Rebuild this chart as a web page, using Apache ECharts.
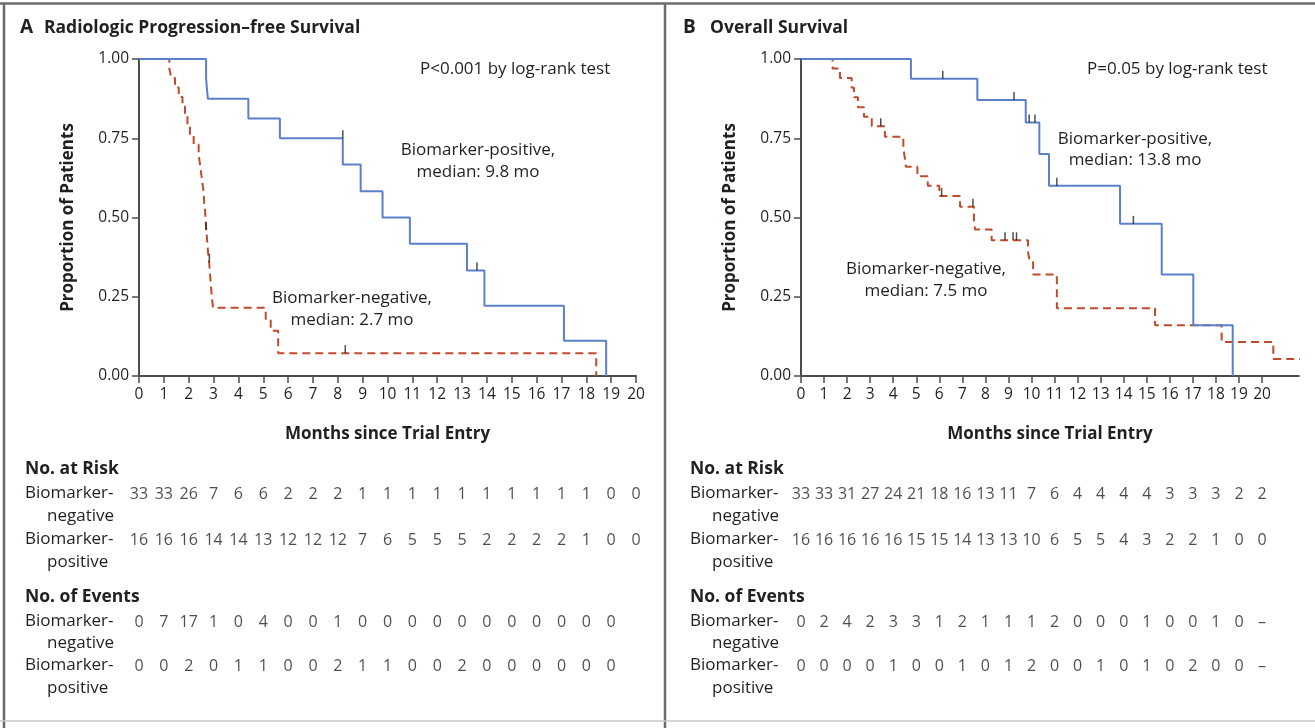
<!DOCTYPE html>
<html>
<head>
<meta charset="utf-8">
<script src="https://cdn.jsdelivr.net/npm/echarts@6/dist/echarts.min.js"></script>
<style>
html, body { margin: 0; padding: 0; background: #fff; }
#chart { width: 1315px; height: 728px; }
</style>
</head>
<body>
<div id="chart"></div>
<script>
// ---- panel A: radiologic progression-free survival, [month, proportion] ----
var pfsPos = [[0, 1], [2.7, 0.9375], [2.77, 0.875], [4.4, 0.8125], [5.67, 0.75], [8.2, 0.667], [8.92, 0.583],
  [9.8, 0.5], [10.9, 0.417], [13.2, 0.333], [13.9, 0.222], [17.1, 0.111], [18.8, 0]]
var pfsNeg = [[0, 1], [1.22, 0.97], [1.3, 0.94], [1.45, 0.91], [1.6, 0.88], [1.75, 0.85], [1.85, 0.82], [1.95, 0.79],
  [2.05, 0.76], [2.2, 0.73], [2.4, 0.7], [2.45, 0.67], [2.5, 0.64], [2.55, 0.61], [2.6, 0.58], [2.62, 0.55],
  [2.66, 0.52], [2.68, 0.49], [2.72, 0.45], [2.75, 0.42], [2.78, 0.39], [2.82, 0.36], [2.86, 0.32], [2.9, 0.28],
  [2.93, 0.25], [2.98, 0.215], [5.1, 0.18], [5.3, 0.143], [5.6, 0.072], [18.4, 0]]
var pfsPosCensor = [[8.2, 0.75], [13.6, 0.333]]
var pfsNegCensor = [[2.7, 0.46], [2.83, 0.36], [8.3, 0.072]]

// ---- panel B: overall survival ----
var osPos = [[0, 1], [4.77, 0.9375], [7.65, 0.871], [9.75, 0.8], [10.34, 0.7], [10.76, 0.6], [13.84, 0.48],
  [15.65, 0.32], [17.02, 0.16], [18.73, 0]]
var osNeg = [[0, 1], [1.37, 0.97], [1.69, 0.94], [2.2, 0.909], [2.3, 0.879], [2.47, 0.848], [2.73, 0.818],
  [3.07, 0.788], [3.64, 0.755], [4.44, 0.72], [4.5, 0.69], [4.55, 0.66], [5.05, 0.63], [5.5, 0.6], [6.0, 0.568],
  [6.9, 0.534], [7.5, 0.497], [7.55, 0.462], [8.27, 0.428], [9.85, 0.39], [9.93, 0.36], [10.07, 0.32],
  [11.1, 0.214], [15.36, 0.16], [18.25, 0.107], [20.49, 0.054], [21.82, 0.005]]
var osPosCensor = [[6.15, 0.9375], [9.24, 0.871], [9.9, 0.8], [10.15, 0.8], [11.1, 0.6], [14.42, 0.48]]
var osNegCensor = [[3.46, 0.788], [6.1, 0.568], [7.46, 0.534], [8.85, 0.428], [9.2, 0.428], [9.35, 0.428]]

// ---- tables (value per month, starting at 0) ----
var riskA = {
  neg: [33, 33, 26, 7, 6, 6, 2, 2, 2, 1, 1, 1, 1, 1, 1, 1, 1, 1, 1, 0, 0],
  pos: [16, 16, 16, 14, 14, 13, 12, 12, 12, 7, 6, 5, 5, 5, 2, 2, 2, 2, 1, 0, 0]
}
var eventsA = {
  neg: [0, 7, 17, 1, 0, 4, 0, 0, 1, 0, 0, 0, 0, 0, 0, 0, 0, 0, 0, 0],
  pos: [0, 0, 2, 0, 1, 1, 0, 0, 2, 1, 1, 0, 0, 2, 0, 0, 0, 0, 0, 0]
}
var riskB = {
  neg: [33, 33, 31, 27, 24, 21, 18, 16, 13, 11, 7, 6, 4, 4, 4, 4, 3, 3, 3, 2, 2],
  pos: [16, 16, 16, 16, 16, 15, 15, 14, 13, 13, 10, 6, 5, 5, 4, 3, 2, 2, 1, 0, 0]
}
var eventsB = {
  neg: [0, 2, 4, 2, 3, 3, 1, 2, 1, 1, 1, 2, 0, 0, 0, 1, 0, 0, 1, 0, '–'],
  pos: [0, 0, 0, 0, 1, 0, 0, 1, 0, 1, 2, 0, 0, 1, 0, 1, 0, 2, 0, 0, '–']
}
var monthTicks = [0, 1, 2, 3, 4, 5, 6, 7, 8, 9, 10, 11, 12, 13, 14, 15, 16, 17, 18, 19, 20]

var FONT = 'Open Sans'
var TXT = '#231f20'
var AXIS = '#4d4d4d'
var BLUE = '#5a80cc'
var RED = '#c24a2c'

var chart = echarts.init(document.getElementById('chart'))

var grids = []
var xAxes = []
var yAxes = []
var series = []

// survival plot for one panel
function addPlot(left, max, pxPerMonth, pos, neg, posC, negC) {
  var gi = grids.length
  grids.push({ left: left, top: 59, width: max * pxPerMonth, height: 317 })
  xAxes.push({
    gridIndex: gi, type: 'value', min: 0, max: max,
    name: 'Months since Trial Entry', nameLocation: 'middle', nameGap: 50,
    nameTextStyle: { fontFamily: FONT, fontSize: 17, fontWeight: 'bold', color: TXT },
    axisLine: { lineStyle: { color: AXIS, width: 2 } },
    axisTick: { customValues: monthTicks, length: 7, lineStyle: { color: AXIS, width: 1.5 } },
    axisLabel: { customValues: monthTicks, margin: 11, fontFamily: FONT, fontSize: 15.5, color: TXT },
    splitLine: { show: false }
  })
  yAxes.push({
    gridIndex: gi, type: 'value', min: 0, max: 1, interval: 0.25,
    name: 'Proportion of Patients', nameLocation: 'middle', nameGap: 62,
    nameTextStyle: { fontFamily: FONT, fontSize: 17, fontWeight: 'bold', color: TXT },
    axisLine: { show: true, lineStyle: { color: AXIS, width: 2 } },
    axisTick: { show: true, length: 7, lineStyle: { color: AXIS, width: 1.5 } },
    axisLabel: { margin: 10, fontFamily: FONT, fontSize: 15.5, color: TXT, formatter: function (v) { return v.toFixed(2) } },
    splitLine: { show: false }
  })
  series.push({
    type: 'line', xAxisIndex: gi, yAxisIndex: gi, step: 'end', data: neg, showSymbol: false, clip: false,
    lineStyle: { color: RED, width: 2, type: [8, 5] }, z: 3
  })
  series.push({
    type: 'line', xAxisIndex: gi, yAxisIndex: gi, step: 'end', data: pos, showSymbol: false,
    lineStyle: { color: BLUE, width: 2 }, z: 4
  })
  series.push({
    type: 'scatter', xAxisIndex: gi, yAxisIndex: gi, data: posC.concat(negC),
    symbol: 'rect', symbolSize: [1.5, 8], symbolOffset: [0, -4],
    itemStyle: { color: '#222' }, z: 5
  })
}

// one table row of numbers, placed on the month scale
function addRow(left, width, max, top, values) {
  var gi = grids.length
  grids.push({ left: left, top: top - 10, width: width, height: 20 })
  xAxes.push({ gridIndex: gi, type: 'value', min: 0, max: max, show: false })
  yAxes.push({ gridIndex: gi, type: 'value', min: -1, max: 1, show: false })
  series.push({
    type: 'scatter', xAxisIndex: gi, yAxisIndex: gi, symbolSize: 1,
    itemStyle: { color: 'rgba(0,0,0,0)' },
    data: values.map(function (v, i) { return [i, 0, v] }),
    label: {
      show: true, position: 'inside', fontFamily: FONT, fontSize: 16, color: TXT,
      formatter: function (p) { return String(p.value[2]) }
    }
  })
}

addPlot(139, 20, 24.85, pfsPos, pfsNeg, pfsPosCensor, pfsNegCensor)
addPlot(801, 21.6, 23.05, osPos, osNeg, osPosCensor, osNegCensor)

var rowTops = [494, 540, 622, 666]
var tA = [riskA.neg, riskA.pos, eventsA.neg, eventsA.pos]
var tB = [riskB.neg, riskB.pos, eventsB.neg, eventsB.pos]
for (var r = 0; r < 4; r++) {
  addRow(139, 497, 20, rowTops[r], tA[r])
  addRow(801, 461, 20, rowTops[r], tB[r])
}

// texts that are not tied to an axis
function txt(x, y, s, opt) {
  var o = { type: 'text', left: x, top: y, style: { text: s, fontFamily: FONT, fontSize: 17, fill: TXT } }
  if (opt) { for (var k in opt) o.style[k] = opt[k] }
  return o
}
function tableLabels(x) {
  return [
    txt(x, 460, 'No. at Risk', { fontWeight: 'bold', fontSize: 17.5 }),
    txt(x, 485, 'Biomarker-'), txt(x + 22, 508, 'negative'),
    txt(x, 531, 'Biomarker-'), txt(x + 22, 554, 'positive'),
    txt(x, 588, 'No. of Events', { fontWeight: 'bold', fontSize: 17.5 }),
    txt(x, 613, 'Biomarker-'), txt(x + 22, 635, 'negative'),
    txt(x, 657, 'Biomarker-'), txt(x + 22, 680, 'positive')
  ]
}
function centered(cx, y, s) {
  return { type: 'text', x: cx, y: y, style: { text: s, fontFamily: FONT, fontSize: 17, fill: TXT, align: 'center', verticalAlign: 'middle' } }
}

var graphics = [
  // frame
  { type: 'line', shape: { x1: 0, y1: 3.5, x2: 1315, y2: 3.5 }, style: { stroke: '#6b6b6b', lineWidth: 2.5 } },
  { type: 'line', shape: { x1: 4, y1: 3, x2: 4, y2: 728 }, style: { stroke: '#6b6b6b', lineWidth: 2.5 } },
  { type: 'line', shape: { x1: 665, y1: 3, x2: 665, y2: 728 }, style: { stroke: '#6b6b6b', lineWidth: 2.5 } },
  { type: 'line', shape: { x1: 0, y1: 721, x2: 1315, y2: 721 }, style: { stroke: '#c8c8c8', lineWidth: 1.5 } },
  // titles
  txt(20, 18, 'A', { fontWeight: 'bold', fontSize: 19 }),
  txt(44, 19, 'Radiologic Progression–free Survival', { fontWeight: 'bold', fontSize: 17.5 }),
  txt(683, 18, 'B', { fontWeight: 'bold', fontSize: 19 }),
  txt(710, 19, 'Overall Survival', { fontWeight: 'bold', fontSize: 17.5 }),
  // annotations
  txt(420, 61, 'P<0.001 by log-rank test'),
  centered(478, 150, 'Biomarker-positive,'),
  centered(478, 172, 'median: 9.8 mo'),
  centered(352, 298, 'Biomarker-negative,'),
  centered(352, 320, 'median: 2.7 mo'),
  txt(1087, 61, 'P=0.05 by log-rank test'),
  centered(1135, 139, 'Biomarker-positive,'),
  centered(1135, 160, 'median: 13.8 mo'),
  centered(926, 269, 'Biomarker-negative,'),
  centered(926, 291, 'median: 7.5 mo')
].concat(tableLabels(25)).concat(tableLabels(690))

chart.setOption({
  animation: false,
  backgroundColor: '#fff',
  grid: grids,
  xAxis: xAxes,
  yAxis: yAxes,
  series: series,
  graphic: graphics
})
</script>
</body>
</html>
